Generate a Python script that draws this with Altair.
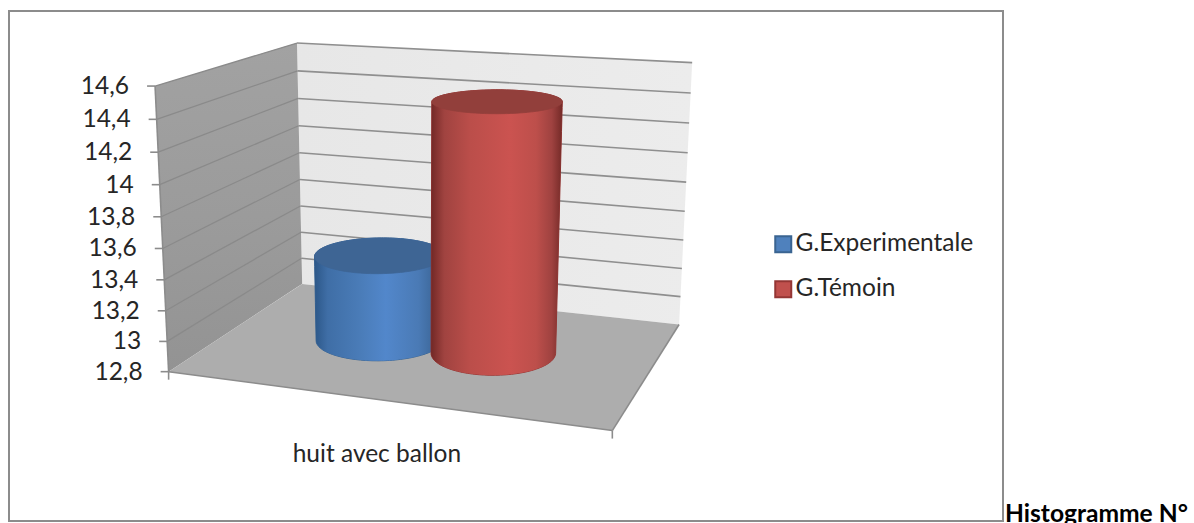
import numpy as np
import pandas as pd
import altair as alt

# --- chart values ---
series_names = ["G.Experimentale", "G.Témoin"]
series_values = [13.38, 14.445]
category_label = "huit avec ballon"
axis_values = [14.6, 14.4, 14.2, 14.0, 13.8, 13.6, 13.4, 13.2, 13.0, 12.8]
axis_labels = ["14,6", "14,4", "14,2", "14", "13,8", "13,6", "13,4", "13,2", "13", "12,8"]
value_min, value_max = 12.8, 14.6

# --- styling ---
W, H = 1194, 523
FONT = "Lato"
INK = "#262626"
TEXT_SIZE = 24.5
legend_fill = ["#4f81bd", "#c0504d"]
legend_stroke = ["#3a6491", "#943634"]
cap_fill = ["#3e6594", "#923f3b"]
side_stops = [
    [(0, "#2c5788"), (0.1, "#3f6ea6"), (0.35, "#4a7cb8"), (0.55, "#5287cb"), (0.8, "#4a7ab5"), (0.93, "#3c6698"), (1, "#34598a")],
    [(0, "#722826"), (0.1, "#a04340"), (0.3, "#bb4e4a"), (0.6, "#cb5350"), (0.8, "#bd4f4b"), (0.92, "#9f4240"), (1, "#742a27")],
]
bar_u = [0.358, 0.637]
bar_ru = [0.15, 0.1415]
bar_rd = 0.215
bar_d = 0.515

# Camera calibration of the 3D box: (category, value fraction, depth) -> page position
anchors = [
    (0, 0, 0, 169, 372), (0, 1, 0, 155, 86), (0, 0, 1, 302, 284), (0, 1, 1, 297, 43),
    (1, 0, 1, 679, 324), (1, 1, 1, 692, 63), (1, 0, 0, 612, 431),
    (0, 0.5, 0, 162, 232), (0, 0.5, 1, 299.5, 166.5), (1, 0.5, 1, 686, 196.5),
]
rows, rhs = [], []
for u, v, d, px, py in anchors:
    rows.append([u, v, d, 1, 0, 0, 0, 0, -px * u, -px * v, -px * d])
    rhs.append(px)
    rows.append([0, 0, 0, 0, u, v, d, 1, -py * u, -py * v, -py * d])
    rhs.append(py)
cam = np.linalg.lstsq(np.array(rows, float), np.array(rhs, float), rcond=None)[0]
cam = np.append(cam, 1).reshape(3, 4)


def project(u, v, d):
    q = cam @ np.array([u, v, d, 1.0])
    return float(q[0] / q[2]), float(q[1] / q[2])


def frac(value):
    return (value - value_min) / (value_max - value_min)


def hull(points):
    pts = sorted(set(points))

    def half(seq):
        out = []
        for p in seq:
            while len(out) > 1 and (out[-1][0] - out[-2][0]) * (p[1] - out[-2][1]) - (out[-1][1] - out[-2][1]) * (p[0] - out[-2][0]) <= 0:
                out.pop()
            out.append(p)
        return out[:-1]

    return half(pts) + half(pts[::-1])


def envelope(points):
    """Upper and lower outline of a convex shape, one row per x position."""
    poly = hull(points)
    xs = sorted({p[0] for p in poly})
    out = []
    for x in xs:
        ys = []
        for a, b in zip(poly, poly[1:] + poly[:1]):
            lo, hi = sorted((a[0], b[0]))
            if lo <= x <= hi:
                if a[0] == b[0]:
                    ys += [a[1], b[1]]
                else:
                    ys.append(a[1] + (b[1] - a[1]) * (x - a[0]) / (b[0] - a[0]))
        out.append({"sx": x, "top": min(ys), "bottom": max(ys)})
    return pd.DataFrame(out)


def gradient(stops, horizontal=True):
    return {
        "gradient": "linear",
        "x1": 0, "y1": 0,
        "x2": 1 if horizontal else 0,
        "y2": 0 if horizontal else 1,
        "stops": [{"offset": o, "color": c} for o, c in stops],
    }


X = alt.Scale(domain=[0, W], range=[0, W], nice=False, zero=False)
Y = alt.Scale(domain=[0, H], range=[0, H], nice=False, zero=False)


def shape(points, fill, **mark):
    return alt.Chart(envelope(points)).mark_area(fill=fill, **mark).encode(
        x=alt.X("sx:Q", scale=X, axis=None),
        y=alt.Y("top:Q", scale=Y, axis=None),
        y2="bottom:Q",
    )


def segments(df, color, width):
    return alt.Chart(df).mark_rule(color=color, strokeWidth=width).encode(
        x=alt.X("x1:Q", scale=X, axis=None), x2="x2:Q",
        y=alt.Y("y1:Q", scale=Y, axis=None), y2="y2:Q",
    )


def seg(a, b):
    return {"x1": a[0], "y1": a[1], "x2": b[0], "y2": b[1]}


def circle(uc, ru, v, n=72):
    return [project(uc + ru * np.cos(t), v, bar_d + bar_rd * np.sin(t)) for t in np.linspace(0, 2 * np.pi, n, endpoint=False)]


def legend_spec():
    return alt.Legend(orient="none", legendX=771, legendY=232, symbolType="square", symbolSize=256,
                      symbolStrokeWidth=2, labelFont=FONT, labelFontSize=TEXT_SIZE, labelColor=INK,
                      labelOffset=0, rowPadding=19, symbolOpacity=1, labelLimit=300)


layers = []

# Outer frame of the chart object
frame = pd.DataFrame([{"x1": 9, "x2": 1003, "y1": 11, "y2": 521}])
layers.append(alt.Chart(frame).mark_rect(fill="white", stroke="#8c8c8c", strokeWidth=2).encode(
    x=alt.X("x1:Q", scale=X, axis=None), x2="x2:Q",
    y=alt.Y("y1:Q", scale=Y, axis=None), y2="y2:Q",
))

# Walls and floor
back = [project(0, 0, 1), project(0, 1, 1), project(1, 1, 1), project(1, 0, 1)]
side = [project(0, 0, 0), project(0, 1, 0), project(0, 1, 1), project(0, 0, 1)]
floor = [project(0, 0, 0), project(0, 0, 1), project(1, 0, 1), project(1, 0, 0)]
layers.append(shape(back, gradient([(0, "#e7e7e7"), (1, "#ececec")])))
layers.append(shape(side, gradient([(0, "#a2a2a2"), (0.6, "#9a9a9a"), (1, "#939393")], horizontal=False)))
layers.append(shape(floor, "#adadad"))

# Gridlines on both walls
fracs = [frac(v) for v in axis_values]
layers.append(segments(pd.DataFrame([seg(project(0, f, 1), project(1, f, 1)) for f in fracs[:-1]]), "#8f8f8f", 1.6))
layers.append(segments(pd.DataFrame([seg(project(0, f, 0), project(0, f, 1)) for f in fracs[:-1]]), "#8a8a8a", 1.3))

# Axis lines and tick marks
edges = [seg(project(0, 0, 0), project(1, 0, 0)), seg(project(1, 0, 0), project(1, 0, 1)), seg(project(0, 0, 0), project(0, 1, 0))]
ticks = []
for f in fracs:
    a = project(0, f, 0)
    ticks.append(seg((a[0] - 8, a[1]), a))
for u in (0, 1):
    a = project(u, 0, 0)
    ticks.append(seg(a, (a[0], a[1] + 8)))
layers.append(segments(pd.DataFrame(edges), "#8c8c8c", 1.6))
layers.append(segments(pd.DataFrame(ticks), "#8c8c8c", 1.6))

# Cylinders, one per series, built from their values
for i, name in enumerate(series_names):
    base = circle(bar_u[i], bar_ru[i], 0)
    top = circle(bar_u[i], bar_ru[i], frac(series_values[i]))
    body = envelope(base + top).assign(series=name)
    layers.append(alt.Chart(body).mark_area(strokeWidth=1).encode(
        x=alt.X("sx:Q", scale=X, axis=None),
        y=alt.Y("top:Q", scale=Y, axis=None),
        y2="bottom:Q",
        fill=alt.Fill("series:N", title=None, scale=alt.Scale(domain=series_names, range=legend_fill), legend=legend_spec()),
        stroke=alt.Stroke("series:N", title=None, scale=alt.Scale(domain=series_names, range=legend_stroke), legend=legend_spec()),
    ))
    layers.append(shape(base + top, gradient(side_stops[i])))
    layers.append(shape(top, cap_fill[i], stroke=cap_fill[i], strokeWidth=0.8))

# Value axis labels sit left of the ticks
label_rows = pd.DataFrame([
    {"sx": project(0, f, 0)[0], "sy": project(0, f, 0)[1], "label": t}
    for f, t in zip(fracs, axis_labels)
])
layers.append(alt.Chart(label_rows).mark_text(align="right", baseline="middle", font=FONT, fontSize=TEXT_SIZE, color=INK, dx=-26, dy=1).encode(
    x=alt.X("sx:Q", scale=X, axis=None), y=alt.Y("sy:Q", scale=Y, axis=None), text="label:N",
))

# Category label under the floor
cx, cy = project(0.5, 0, 0)
layers.append(alt.Chart(pd.DataFrame([{"sx": cx, "sy": cy, "label": category_label}])).mark_text(
    align="center", baseline="middle", font=FONT, fontSize=TEXT_SIZE, color=INK, dx=-2, dy=55).encode(
    x=alt.X("sx:Q", scale=X, axis=None), y=alt.Y("sy:Q", scale=Y, axis=None), text="label:N",
))

# Caption running on from the frame, cut by the page edge
layers.append(alt.Chart(pd.DataFrame([{"sx": 1005, "sy": 522, "label": "Histogramme N°"}])).mark_text(
    align="left", baseline="alphabetic", font=FONT, fontSize=24.6, fontWeight="bold", color="#000000").encode(
    x=alt.X("sx:Q", scale=X, axis=None), y=alt.Y("sy:Q", scale=Y, axis=None), text="label:N",
))

chart = alt.layer(*layers).properties(width=W, height=H, padding=0, autosize=alt.AutoSizeParams(type="none")).configure_view(stroke=None)
chart.save("out.html", embed_options={"renderer": "svg", "actions": False})
